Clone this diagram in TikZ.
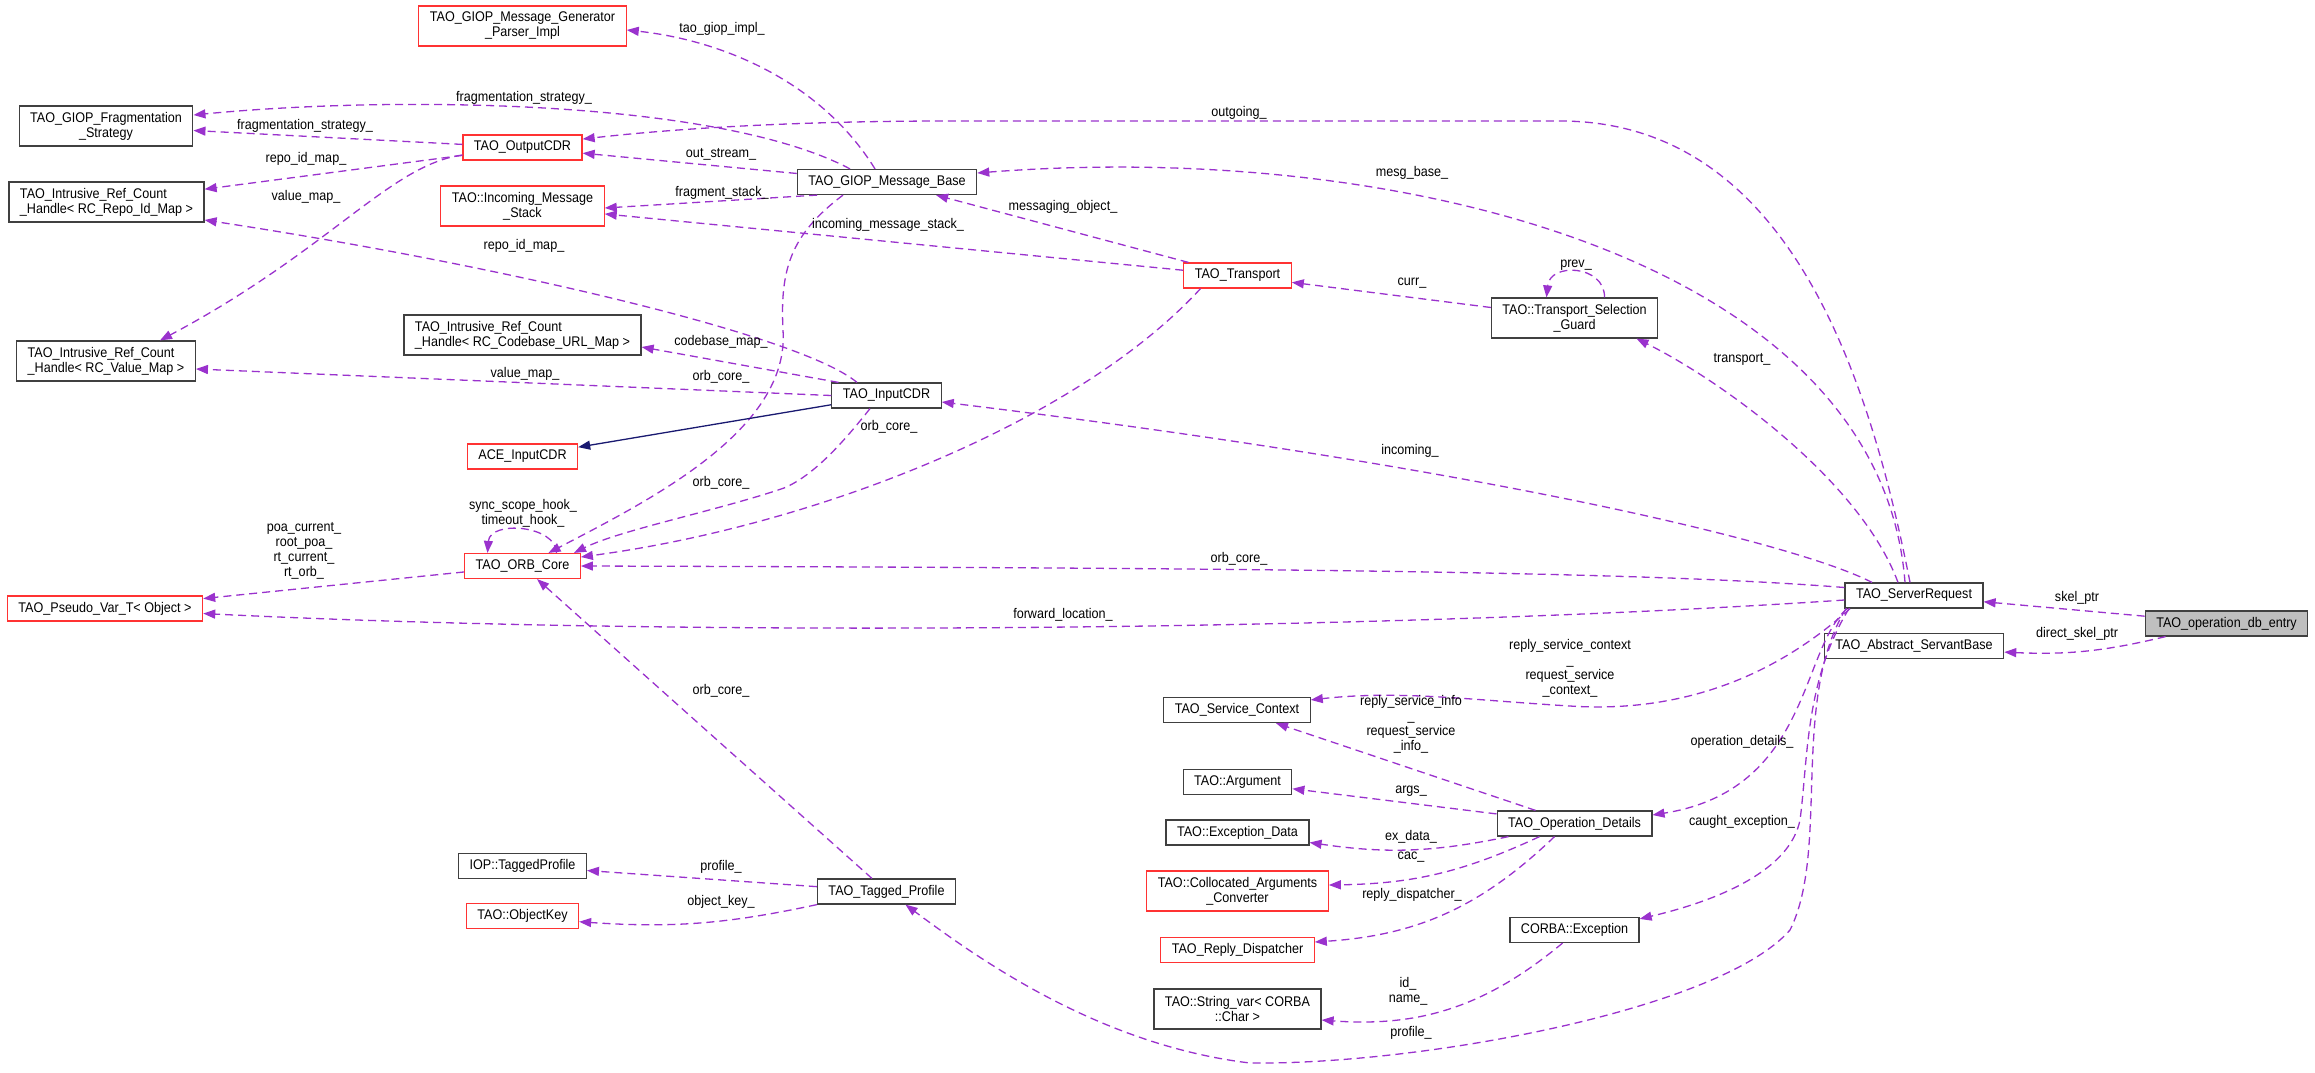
\documentclass[tikz,border=0pt]{standalone}
\usepackage{fontspec}
\setmainfont{Liberation Sans}[FakeStretch=0.9]
\usepackage{xcolor}
\usetikzlibrary{arrows.meta}
\definecolor{relcol}{HTML}{9A32CD}
\definecolor{inhcol}{HTML}{191970}
\definecolor{trunccol}{HTML}{FF3333}

\begin{document}
\begin{tikzpicture}[x=1pt,y=-1pt,
    every node/.style={font=\fontsize{14pt}{15pt}\selectfont},
    cls/.style={draw=black!75,line width=1.2pt,fill=white,inner xsep=11pt,inner ysep=4pt,minimum height=25pt},
    trunc/.style={cls,draw=trunccol},
    two/.style={align=center,minimum height=40pt},
    twol/.style={align=left,minimum height=40pt},
    lbl/.style={inner sep=1pt,align=center},
    rel/.style={relcol,line width=1.3pt,dash pattern=on 8pt off 5pt,-{Triangle[length=12pt,width=9pt]}},
    inh/.style={inhcol,line width=1.3pt,-{Triangle[length=12pt,width=9pt]}}]
\useasboundingbox (0,0) rectangle (2315,1072);

\node (gen) at (522.5,26) [trunc,two] {TAO\_GIOP\_Message\_Generator\\\_Parser\_Impl};
\node (frag) at (106,126) [cls,two] {TAO\_GIOP\_Fragmentation\\\_Strategy};
\node (repo) at (106.5,202) [cls,twol] {TAO\_Intrusive\_Ref\_Count\\\_Handle< RC\_Repo\_Id\_Map >};
\node (valmap) at (106,361) [cls,twol] {TAO\_Intrusive\_Ref\_Count\\\_Handle< RC\_Value\_Map >};
\node (pseudo) at (105,608.5) [trunc] {TAO\_Pseudo\_Var\_T< Object >};
\node (outcdr) at (522.5,147.5) [trunc] {TAO\_OutputCDR};
\node (stack) at (522.5,206) [trunc,two] {TAO::Incoming\_Message\\\_Stack};
\node (cbmap) at (522.5,335) [cls,twol] {TAO\_Intrusive\_Ref\_Count\\\_Handle< RC\_Codebase\_URL\_Map >};
\node (ace) at (522.5,456.5) [trunc] {ACE\_InputCDR};
\node (orb) at (522.5,566) [trunc] {TAO\_ORB\_Core};
\node (iop) at (522.5,866) [cls] {IOP::TaggedProfile};
\node (okey) at (522.5,916) [trunc] {TAO::ObjectKey};
\node (giop) at (887,182) [cls] {TAO\_GIOP\_Message\_Base};
\node (incdr) at (886.5,395.5) [cls] {TAO\_InputCDR};
\node (tprof) at (886.5,891.5) [cls] {TAO\_Tagged\_Profile};
\node (trans) at (1237.5,275.5) [trunc] {TAO\_Transport};
\node (svc) at (1237,710) [cls] {TAO\_Service\_Context};
\node (arg) at (1237.5,782) [cls] {TAO::Argument};
\node (exd) at (1237.5,832.5) [cls] {TAO::Exception\_Data};
\node (cac) at (1237.5,891) [trunc,two] {TAO::Collocated\_Arguments\\\_Converter};
\node (rdisp) at (1237.5,950) [trunc] {TAO\_Reply\_Dispatcher};
\node (strv) at (1237.5,1009) [cls,two] {TAO::String\_var< CORBA\\::Char >};
\node (guard) at (1574.5,318) [cls,two] {TAO::Transport\_Selection\\\_Guard};
\node (opd) at (1574.5,823.5) [cls] {TAO\_Operation\_Details};
\node (cexc) at (1574.5,930) [cls] {CORBA::Exception};
\node (srv) at (1914,595.5) [cls] {TAO\_ServerRequest};
\node (sbase) at (1914,646) [cls] {TAO\_Abstract\_ServantBase};
\node (entry) at (2226.5,623.5) [cls,fill=gray!50] {TAO\_operation\_db\_entry};

\draw[rel] (entry) -- (srv);
\draw[rel] (entry) to[bend left=8] (sbase);
\draw[rel] ([xshift=-9pt]srv.north) .. controls (1880,260) and (1400,140) .. ([yshift=9pt]giop.east);
\draw[rel] ([xshift=-4pt]srv.north) .. controls (1870,380) and (1790,121) .. (1560,121) -- (950,121) .. controls (800,121) and (680,128) .. (outcdr.8);
\draw[rel] ([xshift=-16pt]srv.north) .. controls (1860,480) and (1720,380) .. ([xshift=62pt]guard.south);
\draw[rel] ([xshift=-42pt]srv.north) .. controls (1800,545) and (1500,470) .. ([yshift=-6.5pt]incdr.east);
\draw[rel] ([yshift=8pt]srv.west) .. controls (1650,572) and (1300,568) .. (orb.east);
\draw[rel] ([yshift=-4.5pt]srv.west) .. controls (1400,630) and (700,638) .. ([yshift=-5pt]pseudo.east);
\draw[rel] ([xshift=-64pt]srv.south) .. controls (1760,690) and (1660,712) .. (1570,706) .. controls (1470,700) and (1400,690) .. ([yshift=-3pt]svc.north east);
\draw[rel] ([xshift=-67pt]srv.south) .. controls (1800,650) and (1810,790) .. ([yshift=8.5pt]opd.east);
\draw[rel] ([xshift=-65pt]srv.south) .. controls (1805,680) and (1808,760) .. (1800,820) .. controls (1790,870) and (1720,900) .. ([yshift=-2pt]cexc.north east);
\draw[rel] ([xshift=-68pt]srv.south) .. controls (1790,700) and (1830,850) .. (1790,930) .. controls (1720,1010) and (1420,1065) .. (1250,1063) .. controls (1100,1045) and (980,960) .. ([xshift=19pt]tprof.south);

\draw[rel] ([xshift=30pt]guard.north) .. controls (1605,265) and (1550,262) .. ([xshift=-28pt]guard.north);
\draw[rel] (guard) -- (trans);
\draw[rel] (trans) -- (giop);
\draw[rel] (trans) -- (stack);
\draw[rel] ([xshift=-37pt]trans.south) .. controls (1080,420) and (820,525) .. ([yshift=9pt]orb.east);

\draw[rel] ([xshift=-12pt]giop.north) .. controls (820,80) and (720,40) .. ([yshift=-4pt]gen.east);
\draw[rel] ([xshift=-37pt]giop.north) .. controls (720,100) and (400,95) .. ([yshift=11pt]frag.east);
\draw[rel] (giop) -- (outcdr);
\draw[rel] ([xshift=-70pt]giop.south) -- ([yshift=-2pt]stack.east);
\draw[rel] ([xshift=-44pt]giop.south) .. controls (790,235) and (780,270) .. (783,330) .. controls (790,430) and (650,500) .. ([xshift=26pt]orb.north);

\draw[rel] (outcdr) -- (frag);
\draw[rel] (outcdr) -- (repo);
\draw[rel] ([yshift=-7.5pt]outcdr.west) .. controls (390,165) and (330,250) .. ([xshift=54pt]valmap.north);

\draw[rel] ([xshift=-29.5pt]incdr.north) .. controls (800,335) and (500,265) .. ([yshift=-18pt]repo.east);
\draw[rel] ([xshift=-48pt]incdr.north) -- ([yshift=-12pt]cbmap.east);
\draw[rel] (incdr.west) -- ([yshift=-8pt]valmap.east);
\draw[inh] (incdr) -- (ace);
\draw[rel] ([xshift=-16.5pt]incdr.south) .. controls (845,440) and (815,475) .. (784,488) .. controls (720,510) and (620,530) .. ([xshift=51.5pt]orb.north);

\draw[rel] ([xshift=34pt]orb.north) .. controls (556,525) and (490,520) .. ([xshift=-35pt]orb.north);
\draw[rel] (orb) -- (pseudo);
\draw[rel] (tprof) -- (orb);
\draw[rel] (tprof) -- (iop);
\draw[rel] (tprof.south west) to[bend left=8] (okey);

\draw[rel] (opd) -- (svc);
\draw[rel] (opd) -- (arg);
\draw[rel] ([xshift=-66pt]opd.south) to[bend left=10] ([yshift=-10pt]exd.east);
\draw[rel] ([xshift=-35pt]opd.south) to[bend left=12] ([yshift=6pt]cac.east);
\draw[rel] ([xshift=-20pt]opd.south) to[bend left=20] ([yshift=8pt]rdisp.east);
\draw[rel] ([xshift=-12pt]cexc.south) to[bend left=22] ([yshift=-11pt]strv.east);

\node (l1) at (722,29) [lbl] {tao\_giop\_impl\_};
\node (l2) at (524,98) [lbl] {fragmentation\_strategy\_};
\node (l3) at (305,126) [lbl] {fragmentation\_strategy\_};
\node (l4) at (306,159) [lbl] {repo\_id\_map\_};
\node (l5) at (306,197) [lbl] {value\_map\_};
\node (l6) at (524,246) [lbl] {repo\_id\_map\_};
\node (l7) at (721,154) [lbl] {out\_stream\_};
\node (l8) at (722,193) [lbl] {fragment\_stack\_};
\node (l9) at (1063,207) [lbl] {messaging\_object\_};
\node (l10) at (888,225) [lbl] {incoming\_message\_stack\_};
\node (l11) at (1239,113) [lbl] {outgoing\_};
\node (l12) at (1412,173) [lbl] {mesg\_base\_};
\node (l13) at (1576,265) [lbl] {prev\_};
\node (l14) at (1412,283) [lbl] {curr\_};
\node (l15) at (1742,359) [lbl] {transport\_};
\node (l16) at (525,374) [lbl] {value\_map\_};
\node (l17) at (721,342) [lbl] {codebase\_map\_};
\node (l18) at (721,377) [lbl] {orb\_core\_};
\node (l19) at (889,427) [lbl] {orb\_core\_};
\node (l20) at (721,483) [lbl] {orb\_core\_};
\node (l21) at (1239,559) [lbl] {orb\_core\_};
\node (l22) at (1063,615) [lbl] {forward\_location\_};
\node (l23) at (523,513) [lbl] {sync\_scope\_hook\_\\timeout\_hook\_};
\node (l24) at (304,551) [lbl] {poa\_current\_\\root\_poa\_\\rt\_current\_\\rt\_orb\_};
\node (l25) at (1410,451) [lbl] {incoming\_};
\node (l26) at (2077,598) [lbl] {skel\_ptr};
\node (l27) at (2077,634) [lbl] {direct\_skel\_ptr};
\node (l28) at (1570,668) [lbl] {reply\_service\_context\\\_\\request\_service\\\_context\_};
\node (l29) at (1411,724) [lbl] {reply\_service\_info\\\_\\request\_service\\\_info\_};
\node (l30) at (1742,742) [lbl] {operation\_details\_};
\node (l31) at (1742,822) [lbl] {caught\_exception\_};
\node (l32) at (1411,791) [lbl] {args\_};
\node (l33) at (1411,837) [lbl] {ex\_data\_};
\node (l34) at (1411,857) [lbl] {cac\_};
\node (l35) at (1412,895) [lbl] {reply\_dispatcher\_};
\node (l36) at (1408,991) [lbl] {id\_\\name\_};
\node (l37) at (1411,1033) [lbl] {profile\_};
\node (l38) at (721,691) [lbl] {orb\_core\_};
\node (l39) at (721,867) [lbl] {profile\_};
\node (l40) at (721,902) [lbl] {object\_key\_};
\end{tikzpicture}
\end{document}
